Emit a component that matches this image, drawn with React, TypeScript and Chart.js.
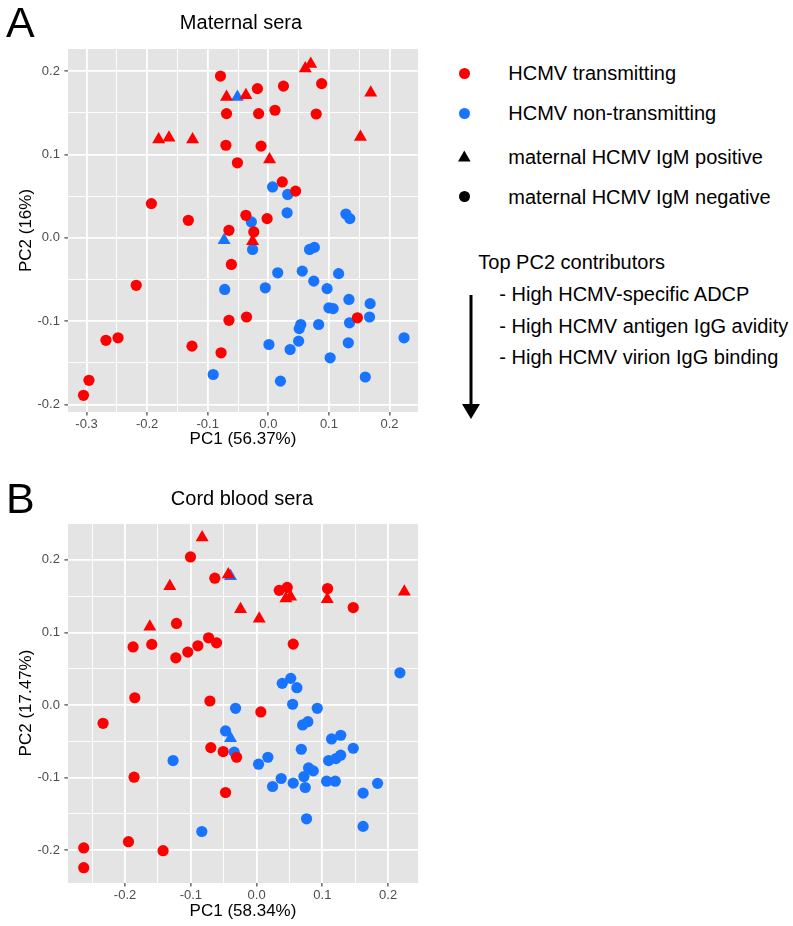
import React, { useEffect, useRef } from 'react';
import { Chart, registerables } from 'chart.js';

Chart.register(...registerables);

// ---------- Data (PC1, PC2) ----------
// Panel A: maternal sera
const maternalTransNeg: number[][] = [
  [-0.079, 0.194], [-0.069, 0.149], [-0.070, 0.111], [-0.193, 0.041], [-0.132, 0.021],
  [-0.065, 0.009], [-0.018, 0.179], [0.025, 0.182], [0.088, 0.185], [-0.016, 0.149],
  [0.011, 0.153], [0.079, 0.1485], [-0.012, 0.110], [-0.051, 0.090], [0.023, 0.067],
  [0.045, 0.056], [-0.037, 0.027], [-0.002, 0.023], [-0.024, 0.007], [-0.061, -0.032],
  [-0.065, -0.099], [-0.036, -0.095], [0.147, -0.096], [-0.078, -0.138], [-0.218, -0.057],
  [-0.268, -0.123], [-0.248, -0.120], [-0.126, -0.130], [-0.296, -0.171], [-0.305, -0.189],
];
const maternalTransPos: number[][] = [
  [-0.069, 0.169], [-0.037, 0.171], [0.061, 0.203], [0.070, 0.2085], [0.169, 0.174],
  [-0.181, 0.118], [-0.164, 0.120], [-0.125, 0.118], [0.152, 0.121], [0.002, 0.094],
  [-0.026, -0.004],
];
const maternalNonNeg: number[][] = [
  [0.007, 0.061], [0.032, 0.052], [0.031, 0.030], [0.128, 0.0285], [0.1345, 0.023],
  [-0.028, 0.019], [-0.026, -0.014], [0.068, -0.014], [0.076, -0.0115], [0.0155, -0.042],
  [0.056, -0.040], [0.116, -0.043], [0.075, -0.052], [-0.072, -0.062], [-0.005, -0.060],
  [0.097, -0.061], [0.133, -0.074], [0.168, -0.079], [0.100, -0.084], [0.107, -0.085],
  [0.134, -0.102], [0.167, -0.095], [0.0535, -0.104], [0.051, -0.109], [0.083, -0.104],
  [0.001, -0.128], [0.050, -0.124], [0.036, -0.134], [0.132, -0.126], [0.102, -0.144],
  [0.224, -0.120], [-0.091, -0.164], [0.020, -0.172], [0.160, -0.167],
];
const maternalNonPos: number[][] = [
  [-0.051, 0.169], [-0.073, -0.003],
];

// Panel B: cord blood sera
const cordTransNeg: number[][] = [
  [-0.1005, 0.204], [-0.0635, 0.1747], [-0.1218, 0.1124], [-0.1878, 0.080], [-0.1594, 0.0835],
  [-0.1228, 0.065], [-0.1046, 0.0729], [-0.0893, 0.0816], [-0.073, 0.0926], [-0.0609, 0.0857],
  [0.0344, 0.158], [0.0466, 0.162], [0.108, 0.1605], [0.147, 0.1343], [0.0557, 0.0839],
  [-0.1852, 0.010], [-0.071, 0.0055], [-0.2335, -0.0252], [-0.0696, -0.0587], [-0.0508, -0.0642],
  [-0.1863, -0.0995], [-0.0472, -0.1206], [-0.1948, -0.1884], [-0.1422, -0.2008], [-0.2629, -0.197],
  [-0.2629, -0.2242], [0.0065, -0.0096], [-0.0304, -0.072],
];
const cordTransPos: number[][] = [
  [-0.0828, 0.2307], [-0.132, 0.1637], [-0.043, 0.180], [-0.1624, 0.1077], [-0.0244, 0.132],
  [0.004, 0.119], [0.0446, 0.1467], [0.0517, 0.149], [0.1075, 0.1458], [0.2247, 0.156],
];
const cordNonNeg: number[][] = [
  [0.218, 0.0444], [-0.0472, -0.0358], [-0.127, -0.0766], [-0.0833, -0.1743], [-0.032, -0.0046],
  [-0.034, -0.065], [0.003, -0.0816], [0.0172, -0.072], [0.039, 0.0298], [0.052, 0.0367],
  [0.0613, 0.0238], [0.0548, 0.001], [0.0923, -0.0046], [0.070, -0.0275], [0.078, -0.023],
  [0.114, -0.0468], [0.128, -0.0417], [0.147, -0.0596], [0.068, -0.061], [0.1096, -0.0766],
  [0.1207, -0.0738], [0.1279, -0.0692], [0.079, -0.0867], [0.0862, -0.0908], [0.072, -0.0986],
  [0.0374, -0.1013], [0.0243, -0.1123], [0.0557, -0.1077], [0.074, -0.1137], [0.1065, -0.105],
  [0.1197, -0.105], [0.184, -0.108], [0.162, -0.1215], [0.076, -0.1568], [0.162, -0.1673],
];
const cordNonPos: number[][] = [
  [-0.0396, 0.1774], [-0.0396, -0.0458],
];

// Ticks
const xTicksA = [-0.3, -0.2, -0.1, 0, 0.1, 0.2];
const yTicksA = [-0.2, -0.1, 0, 0.1, 0.2];
const xTicksB = [-0.2, -0.1, 0, 0.1, 0.2];
const yTicksB = [-0.2, -0.1, 0, 0.1, 0.2];
const xRangeA = [-0.3306, 0.247];
const yRangeA = [-0.209, 0.2265];
const xRangeB = [-0.2868, 0.2455];
const yRangeB = [-0.2453, 0.2508];

// ---------- Styles ----------
const FONT = '"Liberation Sans", Arial, Helvetica, sans-serif';
const RED = '#FF0000';
const BLUE = '#1874FF';
const PANEL_BG = '#E4E4E4';

const isMajor = (v: number, majors: number[]) => majors.some((m) => Math.abs(m - v) < 1e-9);

function withMinor(majors: number[], range: number[]) {
  const step = majors[1] - majors[0];
  const out: number[] = [];
  const first = majors[0] - step / 2;
  for (let i = 0; i <= majors.length; i++) {
    const minor = +(first + i * step).toFixed(4);
    if (minor >= range[0] && minor <= range[1]) out.push(minor);
    if (i < majors.length) out.push(majors[i]);
  }
  return out.sort((a, b) => a - b);
}

const bgPlugin = {
  id: 'panelBg',
  beforeDraw(chart: any) {
    const { ctx, chartArea } = chart;
    if (!chartArea) return;
    ctx.save();
    ctx.fillStyle = PANEL_BG;
    ctx.fillRect(chartArea.left, chartArea.top, chartArea.right - chartArea.left, chartArea.bottom - chartArea.top);
    ctx.restore();
  },
};

function axis(
  majors: number[],
  range: number[],
  horizontal: boolean,
  title: string,
  fitSize: number,
  titlePad: any
) {
  const all = withMinor(majors, range);
  return {
    type: 'linear',
    min: range[0],
    max: range[1],
    afterBuildTicks: (s: any) => {
      s.ticks = all.map((v) => ({ value: v }));
    },
    afterFit: (s: any) => {
      if (horizontal) s.height = fitSize;
      else s.width = fitSize;
    },
    border: { display: false },
    grid: {
      color: '#FFFFFF',
      lineWidth: (c: any) => (c.tick && isMajor(c.tick.value, majors) ? 1.8 : 0.9),
      tickColor: (c: any) => (c.tick && isMajor(c.tick.value, majors) ? '#333333' : 'rgba(0,0,0,0)'),
      tickLength: 3.6,
      tickWidth: 1.1,
      drawTicks: true,
    },
    ticks: {
      autoSkip: false,
      maxRotation: 0,
      minRotation: 0,
      padding: horizontal ? 1 : 4.5,
      color: '#4D4D4D',
      font: { family: FONT, size: 13 },
      callback: (v: number) => (isMajor(v, majors) ? v.toFixed(1) : ''),
    },
    title: {
      display: true,
      text: title,
      color: '#000000',
      font: { family: FONT, size: 17 },
      padding: titlePad,
    },
  };
}

function makeDatasets(tNeg: number[][], tPos: number[][], nNeg: number[][], nPos: number[][]) {
  const toPts = (a: number[][]) => a.map(([x, y]) => ({ x, y }));
  const base = { borderWidth: 0, pointBorderWidth: 0, showLine: false };
  return [
    { ...base, label: 'trans IgM+', data: toPts(tPos), backgroundColor: RED, pointStyle: 'triangle', pointRadius: 7.5 },
    { ...base, label: 'trans IgM-', data: toPts(tNeg), backgroundColor: RED, pointStyle: 'circle', pointRadius: 5.6 },
    { ...base, label: 'non IgM+', data: toPts(nPos), backgroundColor: BLUE, pointStyle: 'triangle', pointRadius: 7.5 },
    { ...base, label: 'non IgM-', data: toPts(nNeg), backgroundColor: BLUE, pointStyle: 'circle', pointRadius: 5.6 },
  ];
}

function PcaPanel(props: {
  top: number;
  height: number;
  padTop: number;
  xFit: number;
  xTitlePadBottom: number;
  datasets: any[];
  xTicks: number[];
  yTicks: number[];
  xRange: number[];
  yRange: number[];
  xTitle: string;
  yTitle: string;
}) {
  const ref = useRef<HTMLCanvasElement | null>(null);
  useEffect(() => {
    if (!ref.current) return;
    const chart = new Chart(ref.current, {
      type: 'scatter',
      data: { datasets: props.datasets },
      plugins: [bgPlugin],
      options: {
        responsive: false,
        maintainAspectRatio: false,
        devicePixelRatio: 1,
        animation: false,
        events: [],
        layout: { padding: { top: props.padTop, left: 0, right: 12, bottom: 0 } },
        plugins: { legend: { display: false }, tooltip: { enabled: false }, title: { display: false } },
        scales: {
          x: axis(props.xTicks, props.xRange, true, props.xTitle, props.xFit, { top: 0, bottom: props.xTitlePadBottom }),
          y: axis(props.yTicks, props.yRange, false, props.yTitle, 68, { top: 16.5, bottom: 0 }),
        },
      } as any,
    });
    return () => chart.destroy();
  }, []);
  return (
    <canvas
      ref={ref}
      width={430}
      height={props.height}
      style={{ position: 'absolute', left: 0, top: props.top, width: 430, height: props.height }}
    />
  );
}

const textStyle = (left: number, cy: number, size: number, extra: any = {}) => ({
  position: 'absolute' as const,
  left,
  top: cy,
  transform: 'translateY(-50%)',
  fontFamily: FONT,
  fontSize: size,
  lineHeight: 1,
  whiteSpace: 'nowrap' as const,
  color: '#000',
  ...extra,
});

export default function App() {
  const legendItems = [
    { cy: 73.3, text: 'HCMV transmitting', shape: 'circle', color: RED },
    { cy: 113.3, text: 'HCMV non-transmitting', shape: 'circle', color: BLUE },
    { cy: 156.8, text: 'maternal HCMV IgM positive', shape: 'triangle', color: '#000' },
    { cy: 196.7, text: 'maternal HCMV IgM negative', shape: 'circle', color: '#000' },
  ];
  const contributors = [
    { cy: 294, text: '- High HCMV-specific ADCP' },
    { cy: 325.7, text: '- High HCMV antigen IgG avidity' },
    { cy: 356.7, text: '- High HCMV virion IgG binding' },
  ];
  return (
    <div style={{ position: 'absolute', left: 0, top: 0, width: 793, height: 926, background: '#fff', overflow: 'hidden' }}>
      <PcaPanel
        top={0}
        height={460}
        padTop={49}
        xFit={48}
        xTitlePadBottom={10}
        datasets={makeDatasets(maternalTransNeg, maternalTransPos, maternalNonNeg, maternalNonPos)}
        xTicks={xTicksA}
        yTicks={yTicksA}
        xRange={xRangeA}
        yRange={yRangeA}
        xTitle="PC1 (56.37%)"
        yTitle="PC2 (16%)"
      />
      <PcaPanel
        top={460}
        height={466}
        padTop={63}
        xFit={43}
        xTitlePadBottom={4}
        datasets={makeDatasets(cordTransNeg, cordTransPos, cordNonNeg, cordNonPos)}
        xTicks={xTicksB}
        yTicks={yTicksB}
        xRange={xRangeB}
        yRange={yRangeB}
        xTitle="PC1 (58.34%)"
        yTitle="PC2 (17.47%)"
      />

      <div style={textStyle(6, 21.5, 43)}>A</div>
      <div style={textStyle(6, 498, 43)}>B</div>
      <div style={{ ...textStyle(241, 22, 20), transform: 'translate(-50%, -50%)' }}>Maternal sera</div>
      <div style={{ ...textStyle(242, 498, 20), transform: 'translate(-50%, -50%)' }}>Cord blood sera</div>

      {legendItems.map((it, i) => (
        <React.Fragment key={i}>
          {it.shape === 'circle' ? (
            <div
              style={{
                position: 'absolute',
                left: 464.3 - 5.6,
                top: it.cy - 5.6,
                width: 11.2,
                height: 11.2,
                borderRadius: '50%',
                background: it.color,
              }}
            />
          ) : (
            <svg style={{ position: 'absolute', left: 456, top: it.cy - 8 }} width={17} height={16}>
              <polygon points="8.3,1.5 14.6,12.4 2,12.4" fill={it.color} />
            </svg>
          )}
          <div style={textStyle(508.3, it.cy, 20)}>{it.text}</div>
        </React.Fragment>
      ))}

      <div style={textStyle(478.3, 262.3, 20)}>Top PC2 contributors</div>
      {contributors.map((c, i) => (
        <div key={i} style={textStyle(499.3, c.cy, 20)}>
          {c.text}
        </div>
      ))}
      <svg style={{ position: 'absolute', left: 455, top: 290 }} width={32} height={135}>
        <line x1={16} y1={5} x2={16} y2={116} stroke="#000" strokeWidth={3} />
        <polygon points="7,114 25,114 16,129" fill="#000" />
      </svg>
    </div>
  );
}
